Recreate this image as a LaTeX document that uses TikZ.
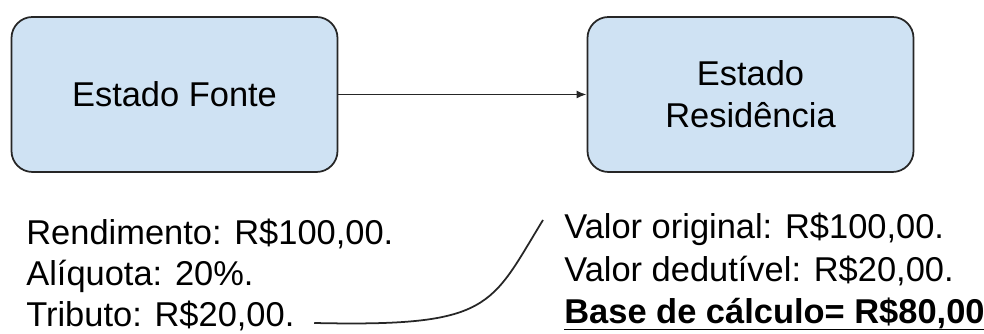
\documentclass[tikz,border=0pt]{standalone}
\usepackage{fontspec}
\setmainfont{Liberation Sans}
\usetikzlibrary{arrows.meta, calc}
\definecolor{boxblue}{HTML}{CFE2F3}
\tikzset{
	statebox/.style={draw=black!85, line width=1pt, fill=boxblue, rounded corners=0.42cm,
		minimum width=6.52cm, minimum height=3.1cm, align=center,
		font=\fontsize{19.6}{23.9}\selectfont}
}
\tikzset{
	valuetext/.style={anchor=base west, inner sep=0pt, font=\fontsize{19.6}{23.9}\selectfont}
}
\tikzset{
	linkline/.style={line width=1pt, draw=black!85}
}

\begin{document}
\begin{tikzpicture}
\useasboundingbox (0,0) rectangle (19.68,6.68);

\coordinate (sA) at (3.49,4.79);
\coordinate (sB) at (15.01,4.79);

\coordinate (lA) at (0.52,1.79);
\coordinate (lB) at (0.52,0.96);
\coordinate (lC) at (0.52,0.14);

\coordinate (rA) at (11.28,1.90);
\coordinate (rB) at (11.28,1.05);
\coordinate (rC) at (11.28,0.20);

\node[statebox] (fonte) at (sA) {Estado Fonte};
\node[statebox] (resid) at (sB) {Estado\\Residência};

\draw[linkline, -{Latex[length=0.2cm,width=0.16cm]}] (fonte.east) -- (resid.west);

% left column
\node[valuetext] (rend) at (lA) {Rendimento: R\$100,00.};
\node[valuetext] (aliq) at (lB) {Alíquota: 20\%.};
\node[valuetext] (trib) at (lC) {Tributo: R\$20,00.};

% right column
\node[valuetext] (orig) at (rA) {Valor original: R\$100,00.};
\node[valuetext] (dedu) at (rB) {Valor dedutível: R\$20,00.};
\node[valuetext, font=\fontsize{19.6}{23.9}\selectfont\bfseries] (base) at (rC) {Base de cálculo= R\$80,00};
\draw[line width=1.1pt] ([yshift=-0.11cm]base.base west) -- ([yshift=-0.11cm]base.base east);

\draw[linkline] ([xshift=0.39cm, yshift=0.08cm]trib.base east) .. controls +(3.56,-0.08) and +(-1.06,-1.73) .. ([xshift=-0.42cm, yshift=0.38cm]orig.base west);

\end{tikzpicture}
\end{document}
